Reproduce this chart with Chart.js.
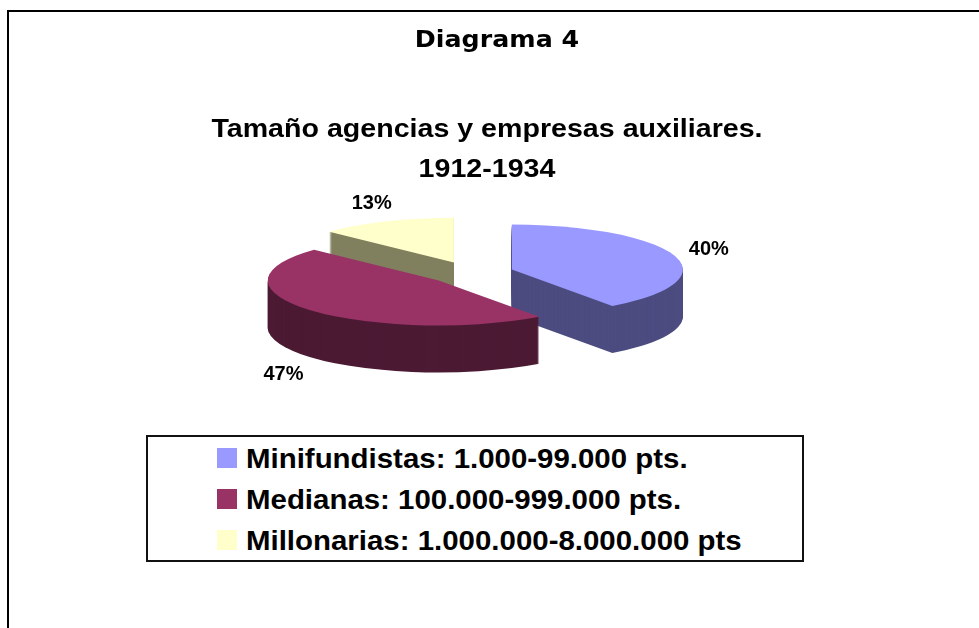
<!DOCTYPE html>
<html>
<head>
<meta charset="utf-8">
<script src="https://cdn.jsdelivr.net/npm/chart.js@4.4.0/dist/chart.umd.min.js"></script>
<style>
  body { margin: 0; background: #fff; }
  .page { position: relative; width: 979px; height: 628px; overflow: hidden; font-family: "Liberation Sans", Arial, sans-serif; }
  .frame { position: absolute; left: 7px; top: 10px; right: -10px; bottom: -10px; border-top: 2px solid #000; border-left: 2px solid #000; }
  canvas { position: absolute; left: 0; top: 0; }
  .head { position: absolute; width: 700px; text-align: center; white-space: nowrap; font-weight: bold; color: #000; transform: scaleX(1.1); transform-origin: center; }
  .head.main { left: 147px; top: 28px; font-family: "DejaVu Sans", sans-serif; font-size: 23px; line-height: 23px; }
  .head.sub { left: 137px; font-size: 26px; line-height: 26px; }
  #legend { position: absolute; left: 146px; top: 435px; width: 658px; height: 127px; box-sizing: border-box; border: 2px solid #111; padding-top: 11px; background: #fff; }
  #legend .item { position: relative; height: 41px; }
  #legend .swatch { position: absolute; left: 69px; top: 0; width: 20px; height: 20px; }
  #legend .txt { position: absolute; left: 98px; top: -2px; font-size: 27px; line-height: 27px; font-weight: bold; white-space: nowrap; transform: scaleX(1.09); transform-origin: left center; }
</style>
</head>
<body>
<div class="page">
  <div class="frame"></div>
  <canvas id="chart" width="979" height="628"></canvas>
  <div class="head main">Diagrama 4</div>
  <div class="head sub" style="top:115px">Tamaño agencias y empresas auxiliares.</div>
  <div class="head sub" style="top:155px">1912-1934</div>
  <div id="legend"></div>
</div>
<script>
const labels = [
  "Minifundistas: 1.000-99.000 pts.",
  "Medianas: 100.000-999.000 pts.",
  "Millonarias: 1.000.000-8.000.000 pts",
];
const shares = [40, 47, 13];
const topColors = ["#9999FF", "#993366", "#FFFFCC"];
const sideColors = ["#4C4C80", "#4C1A33", "#80805F"];

// fake 3d: squash the pie vertically and extrude it downwards
const TILT = 0.263;
const DEPTH = 47;
const DRAW_ORDER = [2, 0, 1]; // back to front

const sliceGeom = (arc) => {
  const p = arc.getProps(["x", "y", "startAngle", "endAngle", "outerRadius"], true);
  const mid = (p.startAngle + p.endAngle) / 2;
  const off = arc.options.offset || 0;
  return {
    cx: p.x + Math.cos(mid) * off,
    cy: p.y + Math.sin(mid) * off * TILT,
    r: p.outerRadius,
    start: p.startAngle,
    end: p.endAngle,
    mid,
  };
};

const slicePath = (ctx, g, dy) => {
  ctx.beginPath();
  ctx.moveTo(g.cx, g.cy + dy);
  ctx.ellipse(g.cx, g.cy + dy, g.r, g.r * TILT, 0, g.start, g.end);
  ctx.closePath();
};

const pie3d = {
  id: "pie3d",
  beforeDatasetsDraw(chart) {
    const ctx = chart.ctx;
    const arcs = chart.getDatasetMeta(0).data;
    ctx.save();

    DRAW_ORDER.forEach((i) => {
      const g = sliceGeom(arcs[i]);
      ctx.fillStyle = sideColors[i];
      for (let d = DEPTH; d > 0; d--) {
        slicePath(ctx, g, d);
        ctx.fill();
      }
      ctx.fillStyle = arcs[i].options.backgroundColor;
      slicePath(ctx, g, 0);
      ctx.fill();
    });

    // percentage labels outside the rim
    const total = shares.reduce((s, v) => s + v, 0);
    ctx.font = "bold 20px 'Liberation Sans', Arial, sans-serif";
    ctx.fillStyle = "#000";
    ctx.textAlign = "center";
    ctx.textBaseline = "middle";
    arcs.forEach((arc, i) => {
      const g = sliceGeom(arc);
      const cos = Math.cos(g.mid);
      const sin = Math.sin(g.mid);
      const text = Math.round((shares[i] / total) * 100) + "%";
      const w = ctx.measureText(text).width;
      const rr = g.r + 16;
      let lx = g.cx + cos * rr + (cos * w) / 2;
      let ly = g.cy + sin * rr * TILT + sin * 15;
      if (sin > 0) ly += DEPTH + 5;
      ctx.fillText(text, lx, ly);
    });

    ctx.restore();
    return false;
  },
};

const htmlLegend = {
  id: "htmlLegend",
  afterUpdate(chart) {
    const box = document.getElementById("legend");
    box.innerHTML = "";
    const items = chart.options.plugins.legend.labels.generateLabels(chart);
    items.forEach((item) => {
      const row = document.createElement("div");
      row.className = "item";
      const sw = document.createElement("span");
      sw.className = "swatch";
      sw.style.background = item.fillStyle;
      const txt = document.createElement("span");
      txt.className = "txt";
      txt.textContent = item.text;
      row.append(sw, txt);
      box.append(row);
    });
  },
};

new Chart(document.getElementById("chart"), {
  type: "pie",
  data: {
    labels,
    datasets: [
      {
        data: shares,
        backgroundColor: topColors,
        borderWidth: 0,
        offset: 43,
      },
    ],
  },
  options: {
    responsive: false,
    animation: false,
    radius: 171,
    layout: { padding: { left: 0, right: 37, top: 0, bottom: 82 } },
    plugins: {
      legend: { display: false },
      title: { display: false },
      tooltip: { enabled: false },
    },
  },
  plugins: [pie3d, htmlLegend],
});
</script>
</body>
</html>
